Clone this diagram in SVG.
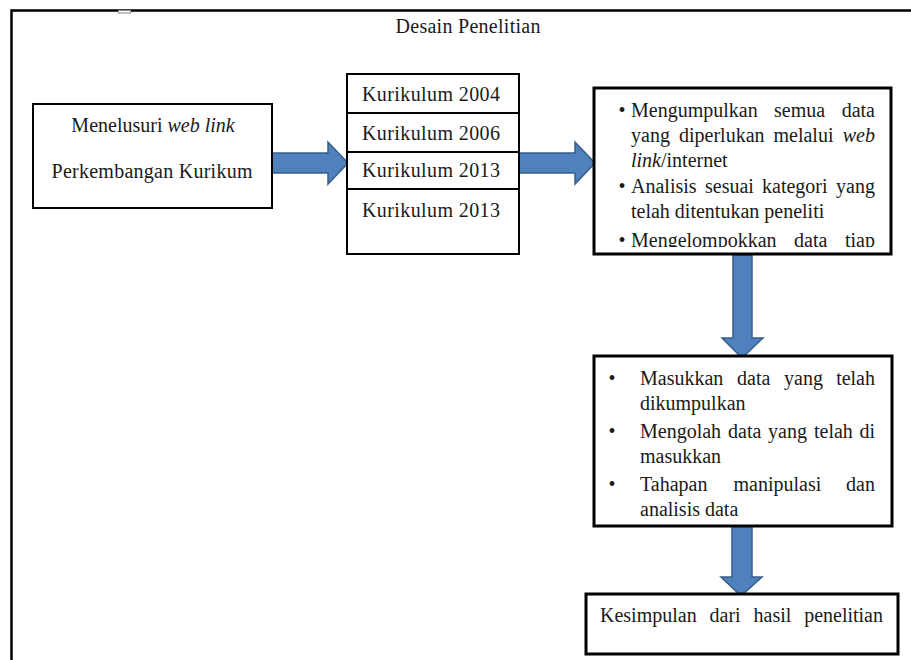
<svg xmlns="http://www.w3.org/2000/svg" width="911" height="660" viewBox="0 0 911 660">
<defs>
<style>
text{font-family:"Liberation Serif","Times New Roman",serif;font-size:20px;fill:#1a1a1a}
.it{font-style:italic}
.box{fill:#fff;stroke:#000}
.arr{fill:#4F81BD;stroke:#385D8A;stroke-width:1.5}
.e{text-anchor:end}
.m{text-anchor:middle}
</style>
<clipPath id="c3"><rect x="596" y="90" width="293" height="157"/></clipPath>
</defs>
<rect width="911" height="660" fill="#fff"/>
<g id="frame">
<path d="M11.5 660 V10.5 H911" fill="none" stroke="#000" stroke-width="2.5"/>
<rect x="118.5" y="10.5" width="12" height="2.5" fill="#fff" stroke="#888" stroke-width="1"/>
<text x="468" y="33" class="m" textLength="145">Desain Penelitian</text>
</g>
<g id="connectors">
<path class="arr" d="M272 153 H328 V142 L348 163 L328 184 V173 H272 Z"/>
<path class="arr" d="M519 153 H575 V142 L595 163 L575 184 V173 H519 Z"/>
<path class="arr" d="M733 255 V338 H722 L742 358 L763 338 H752 V255 Z"/>
<path class="arr" d="M732 526 V577 H721 L741 596 L762 577 H752 V526 Z"/>
</g>
<g id="n1">
<rect class="box" x="33" y="104" width="239" height="104" stroke-width="2"/>
<text x="153" y="132" class="m">Menelusuri <tspan class="it">web link</tspan></text>
<text x="152" y="178" class="m" textLength="201">Perkembangan Kurikum</text>
</g>
<g id="n2">
<rect class="box" x="347" y="74" width="172" height="180" stroke-width="2"/>
<path d="M347 113 H519 M347 152 H519 M347 189 H519" stroke="#000" stroke-width="2"/>
<text x="362" y="101" textLength="138">Kurikulum 2004</text>
<text x="362" y="140" textLength="138">Kurikulum 2006</text>
<text x="362" y="177" textLength="138">Kurikulum 2013</text>
<text x="362" y="217" textLength="138">Kurikulum 2013</text>
</g>
<g id="n3">
<rect class="box" x="594" y="88" width="297" height="166" stroke-width="3"/>
<g clip-path="url(#c3)">
<text x="622" y="117" class="m">•</text>
<text x="631" y="117">Mengumpulkan</text><text x="774" y="117">semua</text><text x="875" y="117" class="e">data</text>
<text x="631" y="142">yang</text><text x="679" y="142">diperlukan</text><text x="773.5" y="142">melalui</text><text x="875" y="142" class="e it">web</text>
<text x="631" y="167"><tspan class="it">link</tspan>/internet</text>
<text x="622" y="193" class="m">•</text>
<text x="631" y="193">Analisis</text><text x="705" y="193">sesuai</text><text x="762" y="193">kategori</text><text x="875" y="193" class="e">yang</text>
<text x="631" y="218">telah ditentukan peneliti</text>
<text x="622" y="247" class="m">•</text>
<text x="631" y="247">Mengelompokkan</text><text x="794" y="247">data</text><text x="875" y="247" class="e">tiap</text>
</g>
</g>
<g id="n4">
<rect class="box" x="594" y="356" width="298" height="170" stroke-width="3"/>
<text x="612" y="385" class="m">•</text>
<text x="640" y="385">Masukkan</text><text x="737" y="385">data</text><text x="784" y="385">yang</text><text x="875" y="385" class="e">telah</text>
<text x="640" y="410">dikumpulkan</text>
<text x="612" y="438" class="m">•</text>
<text x="640" y="438">Mengolah</text><text x="728" y="438">data</text><text x="768" y="438">yang</text><text x="814" y="438">telah</text><text x="875" y="438" class="e">di</text>
<text x="640" y="463">masukkan</text>
<text x="612" y="491" class="m">•</text>
<text x="640" y="491">Tahapan</text><text x="733.5" y="491">manipulasi</text><text x="875" y="491" class="e">dan</text>
<text x="640" y="516">analisis data</text>
</g>
<g id="n5">
<rect class="box" x="586" y="594" width="312" height="60" stroke-width="3"/>
<text x="600" y="622">Kesimpulan</text><text x="709.5" y="622">dari</text><text x="753.5" y="622">hasil</text><text x="883" y="622" class="e">penelitian</text>
</g>
</svg>
